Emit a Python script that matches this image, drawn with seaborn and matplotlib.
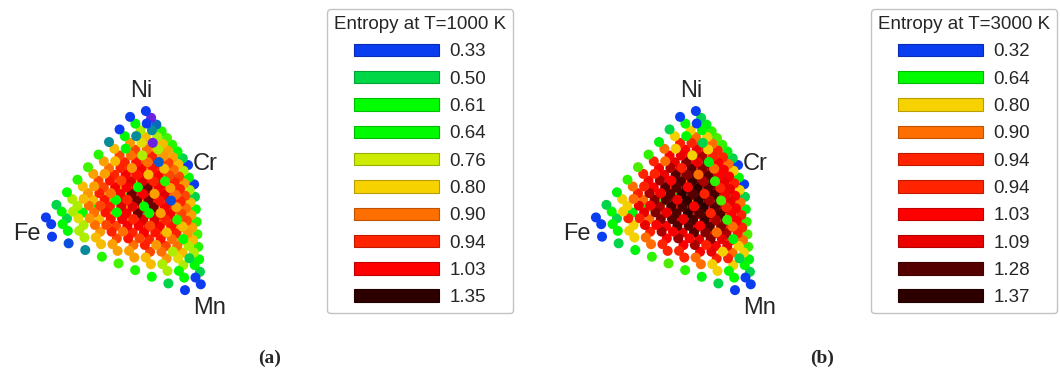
import itertools
import numpy as np
import pandas as pd
import matplotlib
matplotlib.use("Agg")
import matplotlib.pyplot as plt
from matplotlib.colors import LinearSegmentedColormap, Normalize, to_rgb
from matplotlib.patches import Patch
import seaborn as sns

ELEMENTS = ["Fe", "Ni", "Cr", "Mn"]
STEPS = 10  # compositions in steps of 0.1

# legend boxes
legend_1000_values = [0.33, 0.50, 0.61, 0.64, 0.76, 0.80, 0.90, 0.94, 1.03, 1.35]
legend_1000_colors = ["#0a3cf0", "#00d746", "#00ff00", "#00fa00", "#cdeb00",
                      "#f5d200", "#ff6e00", "#ff2300", "#ff0000", "#2d0000"]
legend_3000_values = [0.32, 0.64, 0.80, 0.90, 0.94, 0.94, 1.03, 1.09, 1.28, 1.37]
legend_3000_colors = ["#0a3cf0", "#00fa00", "#f5d200", "#ff6e00", "#ff2300",
                      "#ff2300", "#ff0000", "#eb0000", "#550000", "#2d0000"]
# dot colours that are not in the legends (purple at 1000 K, darker green at 3000 K)
extra_1000 = [(0.20, "#7a1ee0")]
extra_3000 = [(0.50, "#00d746")]

# entropy per composition class (sorted mole fractions, in tenths)
classes = ["9-1", "8-2", "8-1-1", "7-3", "7-2-1", "7-1-1-1", "6-4", "6-3-1",
           "6-2-2", "6-2-1-1", "5-5", "5-4-1", "5-3-2", "5-3-1-1", "5-2-2-1",
           "4-4-2", "4-4-1-1", "4-3-3", "4-3-2-1", "4-2-2-2", "3-3-3-1", "3-3-2-2"]
entropy_3000 = [0.32, 0.50, 0.64, 0.61, 0.80, 0.94, 0.67, 0.90, 0.95, 1.09, 0.69,
                0.94, 1.03, 1.17, 1.22, 1.05, 1.19, 1.09, 1.28, 1.33, 1.31, 1.37]
entropy_1000 = [0.33, 0.50, 0.64, 0.61, 0.74, 0.78, 0.66, 0.82, 0.86, 0.90, 0.68,
                0.85, 0.92, 0.95, 0.98, 0.90, 0.98, 0.94, 1.04, 1.08, 1.08, 1.25]

# single compositions (Fe-Ni-Cr-Mn in tenths) that stand out at 1000 K
odd_1000_comp = ["0-8-0-2", "0-7-0-3", "0-5-0-5", "0-8-2-0", "0-7-3-0", "0-8-1-1",
                 "1-8-0-1", "2-8-0-0", "3-7-0-0", "8-0-0-2", "7-0-0-3", "2-7-0-1",
                 "2-7-1-0", "2-5-0-3", "2-4-0-4", "4-3-0-3", "2-3-1-4", "4-3-1-2"]
odd_1000_value = [0.22, 0.37, 0.35, 0.22, 0.38, 0.42,
                  0.42, 0.33, 0.42, 0.35, 0.42, 0.64,
                  0.64, 0.62, 0.62, 0.62, 0.62, 0.62]

# where the pure elements sit in each panel (pixels) and how deep they are
corner_x = [35.4, 140.6, 193.3, 201.6]
corner_y = [230.0, 104.3, 171.8, 296.8]
corner_depth = [-0.44, 1.47, -2.03, 1.0]
label_x = [27, 141, 205, 210]
label_y = [234, 91, 164, 308]


def make_cmap(values, colors, extra=()):
    pairs = sorted(set(zip(values, colors)) | set(extra))
    lo, hi = pairs[0][0], pairs[-1][0]
    cmap = LinearSegmentedColormap.from_list(
        "s", [((v - lo) / (hi - lo), c) for v, c in pairs])
    return cmap, Normalize(lo, hi)


def build_table(entropy, odd_comp=(), odd_value=()):
    lookup = dict(zip(classes, entropy))
    odd = dict(zip(odd_comp, odd_value))
    rows = []
    for n in itertools.product(range(STEPS + 1), repeat=4):
        if sum(n) != STEPS or max(n) == STEPS:
            continue
        frac = np.array(n) / STEPS
        key = "-".join(str(k) for k in sorted([k for k in n if k > 0], reverse=True))
        comp = "-".join(str(k) for k in n)
        rows.append({
            "px": frac @ corner_x,
            "py": frac @ corner_y,
            "depth": frac @ corner_depth,
            "S": odd.get(comp, lookup[key]),
        })
    return pd.DataFrame(rows).sort_values("depth")


def darker(c, f=0.75):
    return tuple(v * f for v in to_rgb(c))


sns.set_style("white")
plt.rcParams["font.family"] = ["Liberation Sans", "DejaVu Sans"]

fig = plt.figure(figsize=(10.6, 3.7), dpi=100)

panels = [
    ("(a)", 0, 1000, entropy_1000, odd_1000_comp, odd_1000_value,
     legend_1000_values, legend_1000_colors, extra_1000, 327),
    ("(b)", -20, 3000, entropy_3000, (), (),
     legend_3000_values, legend_3000_colors, extra_3000, 341),
]

LEG_FS = 13.5
fpx = LEG_FS * 100 / 72

for i, (tag, x0, T, ent, oc, ov, lv, lc, extra, leg_x) in enumerate(panels):
    ax = fig.add_axes([0.5 * i, 0, 0.5, 1])
    df = build_table(ent, oc, ov)
    cmap, norm = make_cmap(lv, lc, extra)
    sns.scatterplot(data=df, x="px", y="py", hue="S", palette=cmap, hue_norm=norm,
                    s=52, linewidth=0, legend=False, ax=ax)
    for el, lx, ly in zip(ELEMENTS, label_x, label_y):
        ax.text(lx, ly, el, fontsize=17, ha="center", va="center")
    ax.set_xlim(x0, x0 + 530)
    ax.set_ylim(370, 0)
    ax.set_axis_off()

    handles = [Patch(facecolor=c, edgecolor=darker(c), linewidth=0.8) for c in lc]
    leg = ax.legend(handles, [f"{v:.2f}" for v in lv], title=f"Entropy at T={T} K",
                    loc="upper left", bbox_to_anchor=(leg_x / 530, 1 - 9 / 370),
                    bbox_transform=ax.transAxes, borderaxespad=0,
                    fontsize=LEG_FS, title_fontsize=LEG_FS, frameon=True, fancybox=True,
                    handlelength=85 / fpx, handleheight=12 / fpx,
                    handletextpad=0.55, labelspacing=0.55, borderpad=0.38)
    leg.get_frame().set_edgecolor("#b4b4b4")
    leg.get_frame().set_linewidth(1.0)

    fig.text((270 + 552 * i) / 1060, 1 - 358 / 370, tag, fontsize=14, fontweight="bold",
             family="Liberation Serif", ha="center", va="center")

fig.savefig("out.png", dpi=100)
